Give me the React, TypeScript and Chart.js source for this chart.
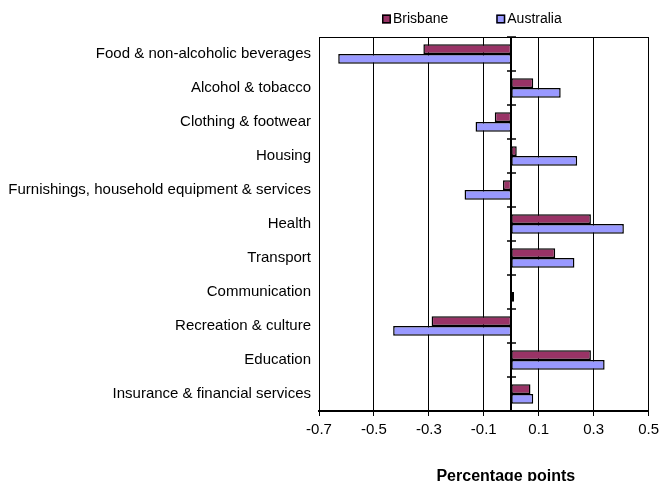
import React, { useEffect, useRef } from "react";
import { Chart, registerables } from "chart.js";

Chart.register(...registerables);

const categories = [
  "Food & non-alcoholic beverages",
  "Alcohol & tobacco",
  "Clothing & footwear",
  "Housing",
  "Furnishings, household equipment & services",
  "Health",
  "Transport",
  "Communication",
  "Recreation & culture",
  "Education",
  "Insurance & financial services",
];

const brisbane = [-0.32, 0.08, -0.06, 0.02, -0.03, 0.29, 0.16, 0.0, -0.29, 0.29, 0.07];
const australia = [-0.63, 0.18, -0.13, 0.24, -0.17, 0.41, 0.23, 0.01, -0.43, 0.34, 0.08];

const xTicks = [-0.7, -0.5, -0.3, -0.1, 0.1, 0.3, 0.5];
const xMin = -0.7;
const xMax = 0.5;
const axisTitle = "Percentage points";

const FONT = "'Liberation Sans', Arial, sans-serif";

const framePlugin = {
  id: "frame",
  afterDatasetsDraw(chart: any) {
    const { ctx, chartArea } = chart;
    const xs = chart.scales.x;
    const ys = chart.scales.y;
    ctx.save();
    // top border
    ctx.strokeStyle = "#000";
    ctx.lineWidth = 1;
    ctx.beginPath();
    ctx.moveTo(chartArea.left, Math.round(chartArea.top) + 0.5);
    ctx.lineTo(chartArea.right, Math.round(chartArea.top) + 0.5);
    ctx.stroke();
    // zero axis
    const x0 = Math.round(xs.getPixelForValue(0));
    ctx.lineWidth = 2;
    ctx.beginPath();
    ctx.moveTo(x0, chartArea.top);
    ctx.lineTo(x0, chartArea.bottom);
    ctx.stroke();
    ctx.lineWidth = 1.5;
    for (let i = 0; i <= categories.length; i++) {
      const y = Math.round(ys.getPixelForValue(i - 0.5));
      ctx.beginPath();
      ctx.moveTo(x0 - 4, y);
      ctx.lineTo(x0 + 5, y);
      ctx.stroke();
    }
    ctx.restore();
  },
  afterDraw(chart: any) {
    const { ctx, chartArea } = chart;
    ctx.save();
    // legend
    ctx.font = `14px ${FONT}`;
    ctx.textBaseline = "middle";
    ctx.textAlign = "left";
    let x = 382;
    const yc = 19;
    chart.data.datasets.forEach((ds: any) => {
      ctx.fillStyle = ds.backgroundColor;
      ctx.fillRect(x, yc - 4.5, 9, 9);
      ctx.strokeStyle = "#000";
      ctx.lineWidth = 1.5;
      ctx.strokeRect(x + 0.75, yc - 3.75, 7.5, 7.5);
      ctx.fillStyle = "#000";
      ctx.fillText(ds.label, x + 11, yc);
      x += 11 + ctx.measureText(ds.label).width + 48;
    });
    // axis title
    ctx.font = `bold 16px ${FONT}`;
    ctx.textAlign = "center";
    ctx.textBaseline = "alphabetic";
    ctx.fillText(axisTitle, (chartArea.left + chartArea.right) / 2 + 22, 480.5);
    ctx.restore();
  },
};

export default function App() {
  const ref = useRef<HTMLCanvasElement>(null);

  useEffect(() => {
    if (!ref.current) return;
    const chart = new Chart(ref.current, {
      type: "bar",
      data: {
        labels: categories,
        datasets: [
          {
            label: "Brisbane",
            data: brisbane,
            backgroundColor: "#993366",
            borderColor: "#000",
            borderWidth: 1.5,
            borderSkipped: false,
            categoryPercentage: 0.57,
            barPercentage: 1,
          },
          {
            label: "Australia",
            data: australia,
            backgroundColor: "#9999FF",
            borderColor: "#000",
            borderWidth: 1.5,
            borderSkipped: false,
            categoryPercentage: 0.57,
            barPercentage: 1,
          },
        ],
      },
      options: {
        indexAxis: "y",
        animation: false,
        responsive: false,
        layout: { padding: { top: 37, right: 13, left: 0, bottom: 0 } },
        plugins: {
          legend: { display: false },
          tooltip: { enabled: false },
        },
        scales: {
          x: {
            type: "linear",
            min: xMin,
            max: xMax,
            afterBuildTicks: (scale: any) => {
              scale.ticks = xTicks.map((v) => ({ value: v }));
            },
            afterFit: (scale: any) => {
              scale.height = 70;
            },
            grid: {
              color: "#000",
              lineWidth: 1,
              tickLength: 5,
              drawTicks: true,
            },
            border: { display: true, color: "#000", width: 2 },
            ticks: {
              color: "#000",
              font: { family: FONT, size: 15 },
              padding: 5,
              maxRotation: 0,
              autoSkip: false,
              callback: (v: any) => String(v),
            },
          },
          y: {
            type: "category",
            offset: true,
            afterFit: (scale: any) => {
              scale.width = 319;
            },
            grid: { display: false, drawTicks: false },
            border: { display: true, color: "#000", width: 1 },
            ticks: {
              color: "#000",
              font: { family: FONT, size: 15 },
              padding: 8,
              autoSkip: false,
            },
          },
        },
      },
      plugins: [framePlugin],
    } as any);
    return () => chart.destroy();
  }, []);

  return (
    <div style={{ position: "absolute", left: 0, top: 0, width: 664, height: 481 }}>
      <canvas ref={ref} width={664} height={481} style={{ width: 664, height: 481 }} />
    </div>
  );
}
